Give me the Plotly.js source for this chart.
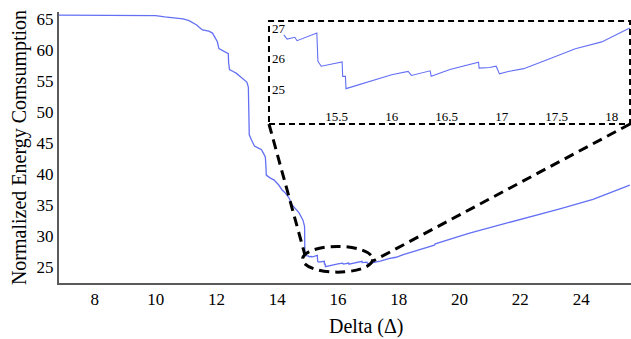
<!DOCTYPE html>
<html>
<head>
<meta charset="utf-8">
<script src="https://cdn.plot.ly/plotly-3.0.1.min.js"></script>
<style>html,body{margin:0;padding:0;background:#fff;}#chart{width:631px;height:339px;}</style>
</head>
<body>
<div id="chart"></div>
<script>
// Delta values (x) and normalized energy consumption (y)
const deltaValues = [
  6.82, 9.6, 10.0, 10.3, 10.6, 10.9, 11.1, 11.21, 11.35, 11.44, 11.54, 11.75, 11.87, 11.95, 12.03, 12.08,
  12.25, 12.39, 12.40, 12.43, 12.55, 12.66, 12.8, 12.92, 13.0, 13.05, 13.06, 13.08, 13.15, 13.2, 13.25,
  13.4, 13.48, 13.55, 13.61, 13.63, 13.64, 13.75, 13.9, 14.05, 14.16, 14.25, 14.39, 14.49, 14.6, 14.72,
  14.85, 14.9, 14.91,
  15.02, 15.05, 15.12, 15.14, 15.32, 15.33, 15.36, 15.55, 15.555, 15.58, 15.585, 16.0, 16.15, 16.18,
  16.35, 16.36, 16.53, 16.79, 16.795, 16.89, 16.95, 16.98, 17.06, 17.2, 17.39, 17.67, 17.91, 18.15,
  18.6, 19.17, 19.2, 20.3, 21.54, 22.2, 22.86, 22.9, 23.3, 24.39, 25.0, 25.6
];
const energyValues = [
  65.6, 65.6, 65.5, 65.3, 65.2, 65.0, 64.7, 64.4, 64.0, 63.6, 63.2, 63.0, 62.7, 62.0, 61.3, 60.2,
  59.8, 59.4, 58.0, 56.8, 56.5, 56.2, 55.6, 55.2, 54.8, 54.0, 50.0, 46.3, 45.5, 45.0, 44.5,
  44.1, 43.9, 43.3, 42.7, 41.0, 39.8, 39.4, 39.0, 38.2, 37.4, 37.0, 36.1, 35.0, 34.4, 33.7,
  32.5, 31.5, 26.8,
  26.78, 26.64, 26.70, 26.59, 26.84, 25.92, 25.76, 25.90, 25.43, 25.43, 25.03, 25.48, 25.59, 25.46,
  25.61, 25.43, 25.65, 25.89, 25.70, 25.72, 25.76, 25.51, 25.59, 25.68, 25.94, 26.33, 26.55, 26.98,
  27.6, 28.5, 28.7, 30.4, 32.05, 32.9, 33.76, 33.9, 34.35, 35.9, 37.0, 38.2
];
const mainTicks = [8, 10, 12, 14, 16, 18, 20, 22, 24];
const yTicks = [25, 30, 35, 40, 45, 50, 55, 60, 65];
const insetXTicks = [15.5, 16, 16.5, 17, 17.5, 18];
const insetXLabels = ['15.5', '16', '16.5', '17', '17.5', '18'];
const insetYTicks = [25, 26, 27];
const xTitle = 'Delta (Δ)';
const yTitle = 'Normalized Energy Comsumption';

const insetStart = 15.0;
const insetX = [], insetY = [];
deltaValues.forEach((d, i) => { if (d >= insetStart) { insetX.push(d); insetY.push(energyValues[i]); } });

const lineColor = '#6470f4';
const serif = 'Liberation Serif';

const traces = [
  {x: deltaValues, y: energyValues, type: 'scatter', mode: 'lines',
   line: {color: lineColor, width: 1.3}, xaxis: 'x', yaxis: 'y', hoverinfo: 'none'},
  {x: insetX, y: insetY, type: 'scatter', mode: 'lines',
   line: {color: lineColor, width: 1.1}, xaxis: 'x2', yaxis: 'y2', hoverinfo: 'none'}
];

const layout = {
  width: 631, height: 339,
  margin: {l: 59, r: 0, t: 12, b: 56},
  paper_bgcolor: '#fff', plot_bgcolor: '#fff',
  showlegend: false,
  font: {family: serif, color: '#000', size: 17},
  xaxis: {
    range: [6.82, 25.64], domain: [0, 1],
    tickvals: mainTicks, ticks: '', showgrid: false, zeroline: false,
    showline: true, linecolor: '#5a5a5a', linewidth: 2,
    tickfont: {family: serif, size: 17, color: '#000'}
  },
  yaxis: {
    range: [22.4, 66.1], domain: [0, 1],
    tickvals: yTicks, ticks: '', showgrid: false, zeroline: false,
    showline: true, linecolor: '#5a5a5a', linewidth: 2,
    tickfont: {family: serif, size: 17, color: '#000'},
    title: {text: yTitle, font: {family: serif, size: 20, color: '#000'}, standoff: 5}
  },
  xaxis2: {
    anchor: 'y2', domain: [0.3671, 0.9983], range: [14.885, 18.167],
    tickvals: insetXTicks, ticktext: insetXLabels,
    ticks: '', showgrid: false, zeroline: false, showline: false,
    ticklabelposition: 'inside', ticklabeloverflow: 'allow', ticklabelstandoff: -3,
    tickfont: {family: serif, size: 13, color: '#000'}
  },
  yaxis2: {
    anchor: 'x2', domain: [0.5867, 0.9668], range: [23.88, 27.23],
    tickvals: insetYTicks, ticks: '', showgrid: false, zeroline: false, showline: false,
    ticklabelposition: 'inside', ticklabeloverflow: 'allow',
    tickfont: {family: serif, size: 13, color: '#000'}
  },
  annotations: [
    {text: xTitle, xref: 'paper', yref: 'paper', x: 0.537, y: -0.162,
     xanchor: 'center', yanchor: 'middle', showarrow: false,
     font: {family: serif, size: 20, color: '#000'}}
  ],
  shapes: [
    {type: 'rect', xref: 'x2 domain', yref: 'y2 domain', x0: 0, x1: 1, y0: 0, y1: 1,
     line: {color: '#000', width: 2, dash: '6px,4px'}, fillcolor: 'rgba(0,0,0,0)'},
    {type: 'circle', xref: 'x', yref: 'y', x0: 14.83, x1: 17.14, y0: 24.15, y1: 28.3,
     line: {color: '#000', width: 3, dash: '10px,6px'}},
    {type: 'line', xref: 'paper', yref: 'paper', x0: 0.3671, y0: 0.5867, x1: 0.430, y1: 0.103,
     line: {color: '#000', width: 3, dash: '10px,6px'}},
    {type: 'line', xref: 'paper', yref: 'paper', x0: 0.9983, y0: 0.5867, x1: 0.549, y1: 0.081,
     line: {color: '#000', width: 3, dash: '10px,6px'}}
  ]
};

Plotly.newPlot('chart', traces, layout, {staticPlot: true, displayModeBar: false});
</script>
</body>
</html>
